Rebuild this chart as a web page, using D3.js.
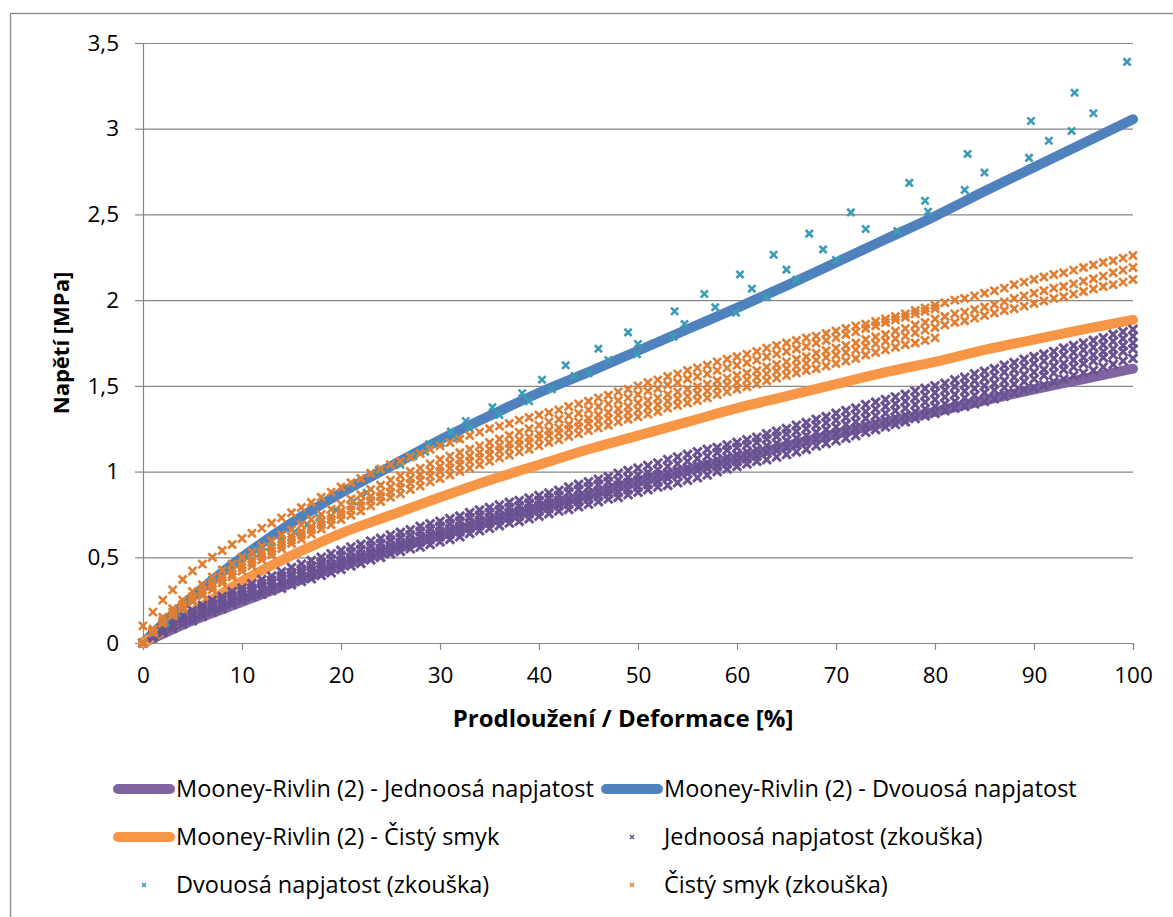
<!DOCTYPE html>
<html><head><meta charset="utf-8">
<script src="https://cdn.jsdelivr.net/npm/d3@7"></script>
<style>
body{margin:0;background:#fff}
svg{display:block}
text{font-family:"Open Sans","Noto Sans",sans-serif;fill:#000}
</style>
</head><body>
<svg id="chart" width="1173" height="917"></svg>
<script>
// ---------- DATA ----------
const strainPct = [0,1,2,3,4,5,6,7,8,9,10,11,12,13,14,15,16,17,18,19,20,21,22,23,24,25,26,27,28,29,30,31,32,33,34,35,36,37,38,39,40,41,42,43,44,45,46,47,48,49,50,51,52,53,54,55,56,57,58,59,60,61,62,63,64,65,66,67,68,69,70,71,72,73,74,75,76,77,78,79,80,81,82,83,84,85,86,87,88,89,90,91,92,93,94,95,96,97,98,99,100];

// Uniaxial tension test specimens (MPa)
const uniTest1 = [0,0.05,0.09,0.125,0.16,0.19,0.22,0.25,0.27,0.30,0.32,0.345,0.37,0.39,0.415,0.44,0.46,0.48,0.50,0.52,0.54,0.56,0.575,0.595,0.61,0.63,0.645,0.66,0.68,0.695,0.71,0.725,0.74,0.76,0.775,0.79,0.805,0.82,0.83,0.845,0.86,0.875,0.89,0.91,0.925,0.94,0.955,0.97,0.99,1.005,1.02,1.035,1.05,1.07,1.085,1.10,1.115,1.13,1.14,1.155,1.17,1.185,1.20,1.22,1.235,1.25,1.27,1.285,1.305,1.32,1.34,1.355,1.37,1.39,1.405,1.42,1.435,1.45,1.47,1.485,1.50,1.515,1.535,1.55,1.57,1.585,1.60,1.62,1.635,1.655,1.67,1.685,1.70,1.72,1.735,1.75,1.765,1.78,1.80,1.815,1.83];
const uniTest2 = [0,0.045,0.08,0.11,0.14,0.17,0.20,0.225,0.25,0.275,0.30,0.32,0.345,0.365,0.39,0.41,0.43,0.45,0.47,0.49,0.51,0.53,0.545,0.565,0.58,0.60,0.615,0.63,0.65,0.665,0.68,0.695,0.71,0.73,0.745,0.76,0.775,0.79,0.80,0.815,0.83,0.845,0.86,0.88,0.895,0.91,0.925,0.94,0.95,0.965,0.98,0.995,1.01,1.03,1.045,1.06,1.075,1.09,1.11,1.125,1.14,1.155,1.17,1.19,1.205,1.22,1.235,1.25,1.27,1.285,1.30,1.315,1.33,1.35,1.365,1.38,1.395,1.41,1.43,1.445,1.46,1.475,1.495,1.51,1.53,1.545,1.56,1.58,1.595,1.615,1.63,1.645,1.66,1.68,1.695,1.71,1.725,1.74,1.76,1.775,1.79];
const uniTest3 = [0,0.04,0.075,0.105,0.135,0.16,0.185,0.21,0.23,0.255,0.28,0.30,0.32,0.345,0.365,0.39,0.41,0.425,0.445,0.46,0.48,0.50,0.515,0.535,0.55,0.57,0.585,0.60,0.62,0.635,0.65,0.665,0.68,0.70,0.715,0.73,0.745,0.76,0.77,0.785,0.80,0.815,0.83,0.84,0.855,0.87,0.885,0.90,0.92,0.935,0.95,0.965,0.98,0.99,1.005,1.02,1.035,1.05,1.07,1.085,1.10,1.115,1.13,1.15,1.165,1.18,1.195,1.21,1.23,1.245,1.26,1.275,1.29,1.31,1.325,1.34,1.355,1.37,1.39,1.405,1.42,1.435,1.45,1.47,1.485,1.50,1.515,1.53,1.55,1.565,1.58,1.595,1.615,1.63,1.65,1.665,1.68,1.70,1.715,1.735,1.75];
const uniTest4 = [0,0.04,0.07,0.10,0.125,0.15,0.175,0.20,0.22,0.245,0.27,0.29,0.31,0.33,0.35,0.37,0.39,0.405,0.425,0.44,0.46,0.48,0.495,0.515,0.53,0.55,0.565,0.58,0.59,0.605,0.62,0.635,0.65,0.67,0.685,0.70,0.715,0.73,0.74,0.755,0.77,0.785,0.80,0.81,0.825,0.84,0.855,0.87,0.88,0.895,0.91,0.925,0.94,0.96,0.975,0.99,1.005,1.02,1.03,1.045,1.06,1.075,1.09,1.11,1.125,1.14,1.155,1.17,1.19,1.205,1.22,1.235,1.25,1.27,1.285,1.30,1.315,1.33,1.35,1.365,1.38,1.395,1.41,1.43,1.445,1.46,1.475,1.49,1.51,1.525,1.54,1.56,1.575,1.595,1.61,1.63,1.645,1.665,1.68,1.70,1.715];
const uniTest5 = [0,0.03,0.06,0.085,0.11,0.13,0.155,0.18,0.20,0.225,0.25,0.27,0.285,0.305,0.32,0.34,0.36,0.375,0.395,0.41,0.43,0.45,0.465,0.485,0.50,0.52,0.535,0.55,0.56,0.575,0.59,0.605,0.62,0.64,0.655,0.67,0.685,0.70,0.71,0.725,0.74,0.755,0.77,0.78,0.795,0.81,0.825,0.84,0.85,0.865,0.88,0.895,0.91,0.92,0.935,0.95,0.965,0.98,1.00,1.015,1.03,1.045,1.06,1.07,1.085,1.10,1.115,1.13,1.15,1.165,1.18,1.195,1.21,1.23,1.245,1.26,1.275,1.29,1.31,1.325,1.34,1.355,1.37,1.38,1.395,1.41,1.425,1.44,1.46,1.475,1.49,1.505,1.525,1.54,1.56,1.575,1.59,1.61,1.625,1.645,1.66];

// Pure shear test specimens (MPa); specimens 2 and 5 stop at 80 %
const shearTest1 = [0.10,0.18,0.25,0.31,0.37,0.42,0.46,0.50,0.54,0.575,0.61,0.64,0.67,0.70,0.73,0.76,0.79,0.82,0.85,0.88,0.91,0.935,0.96,0.99,1.015,1.04,1.06,1.085,1.105,1.13,1.15,1.17,1.19,1.21,1.23,1.25,1.265,1.28,1.30,1.315,1.33,1.345,1.36,1.38,1.395,1.41,1.43,1.445,1.465,1.48,1.50,1.52,1.535,1.555,1.57,1.59,1.605,1.62,1.64,1.655,1.67,1.685,1.70,1.72,1.735,1.75,1.765,1.78,1.79,1.805,1.82,1.835,1.85,1.86,1.875,1.89,1.905,1.92,1.94,1.955,1.97,1.985,2.00,2.01,2.025,2.04,2.055,2.07,2.09,2.105,2.12,2.135,2.15,2.16,2.175,2.19,2.205,2.22,2.23,2.245,2.26];
const shearTest2 = [0,0.08,0.15,0.20,0.25,0.30,0.34,0.385,0.425,0.46,0.50,0.53,0.565,0.595,0.63,0.66,0.69,0.72,0.75,0.78,0.81,0.84,0.865,0.895,0.92,0.95,0.975,1.00,1.02,1.045,1.07,1.09,1.11,1.13,1.15,1.17,1.19,1.21,1.23,1.25,1.27,1.29,1.305,1.325,1.34,1.36,1.38,1.395,1.415,1.43,1.45,1.47,1.485,1.505,1.52,1.54,1.555,1.57,1.59,1.605,1.62,1.635,1.65,1.67,1.685,1.70,1.715,1.73,1.75,1.765,1.78,1.80,1.815,1.835,1.85,1.87,1.885,1.90,1.92,1.935,1.95];
const shearTest3 = [0,0.07,0.13,0.18,0.225,0.27,0.31,0.35,0.385,0.42,0.46,0.49,0.525,0.555,0.59,0.62,0.65,0.68,0.71,0.74,0.77,0.80,0.825,0.855,0.88,0.91,0.935,0.96,0.98,1.005,1.03,1.05,1.07,1.09,1.11,1.13,1.15,1.165,1.185,1.20,1.22,1.24,1.255,1.275,1.29,1.31,1.33,1.345,1.365,1.38,1.40,1.415,1.43,1.45,1.465,1.48,1.495,1.51,1.53,1.545,1.56,1.575,1.59,1.61,1.625,1.64,1.655,1.67,1.69,1.705,1.72,1.735,1.75,1.77,1.785,1.80,1.82,1.835,1.855,1.87,1.89,1.905,1.92,1.93,1.945,1.96,1.975,1.99,2.01,2.025,2.04,2.055,2.07,2.08,2.095,2.11,2.125,2.14,2.16,2.175,2.19];
const shearTest4 = [0,0.065,0.12,0.165,0.21,0.25,0.29,0.33,0.365,0.40,0.44,0.47,0.505,0.535,0.57,0.60,0.63,0.66,0.69,0.72,0.75,0.775,0.80,0.83,0.855,0.88,0.905,0.93,0.95,0.975,1.00,1.02,1.04,1.06,1.08,1.10,1.12,1.135,1.155,1.17,1.19,1.21,1.225,1.245,1.26,1.28,1.295,1.31,1.33,1.345,1.36,1.375,1.39,1.41,1.425,1.44,1.455,1.47,1.49,1.505,1.52,1.535,1.55,1.57,1.585,1.60,1.615,1.63,1.65,1.665,1.68,1.695,1.71,1.73,1.745,1.76,1.775,1.79,1.81,1.825,1.84,1.855,1.87,1.88,1.895,1.91,1.925,1.94,1.95,1.965,1.98,1.995,2.01,2.02,2.035,2.05,2.065,2.08,2.09,2.105,2.12];
const shearTest5 = [0,0.06,0.115,0.16,0.20,0.24,0.275,0.31,0.35,0.385,0.42,0.45,0.485,0.515,0.55,0.58,0.605,0.635,0.665,0.69,0.72,0.745,0.77,0.80,0.825,0.85,0.87,0.895,0.915,0.94,0.96,0.98,1.00,1.02,1.04,1.06,1.08,1.095,1.115,1.13,1.15,1.17,1.185,1.205,1.22,1.24,1.255,1.27,1.29,1.305,1.32,1.335,1.35,1.37,1.385,1.40,1.415,1.43,1.45,1.465,1.48,1.495,1.51,1.53,1.545,1.56,1.575,1.59,1.60,1.615,1.63,1.645,1.66,1.68,1.695,1.71,1.725,1.74,1.75,1.765,1.78];

// Equibiaxial test points
const biaxTestStrain = [0,1.2,2.3,3.4,4.4,5.8,7.0,8.1,9.5,10.5,11.3,11.8,12.8,14.0,15.3,16.6,17.8,19.5,21.2,22.6,23.8,26.0,27.3,28.5,28.9,30.1,31.1,31.7,32.6,33.0,35.3,36.0,38.3,39.0,40.3,41.3,42.7,43.6,45.0,46.0,47.0,49.0,49.9,50.0,53.6,53.7,54.7,56.7,57.8,59.9,60.3,61.5,63.0,63.7,65.0,66.0,67.3,68.7,70.0,71.5,73.0,76.2,77.4,79.0,79.3,83.0,83.3,85.0,89.5,89.7,91.5,93.8,94.1,96.0,99.4];
const biaxTestStress = [0,0.06,0.12,0.175,0.24,0.30,0.37,0.426,0.455,0.50,0.547,0.523,0.562,0.607,0.648,0.692,0.733,0.776,0.824,0.877,1.009,1.04,1.09,1.116,1.159,1.165,1.233,1.194,1.295,1.252,1.375,1.33,1.457,1.41,1.536,1.48,1.62,1.558,1.573,1.717,1.651,1.812,1.684,1.744,1.787,1.935,1.861,2.036,1.958,1.927,2.15,2.067,2.02,2.265,2.178,2.12,2.388,2.296,2.234,2.512,2.415,2.403,2.684,2.58,2.516,2.643,2.853,2.744,2.83,3.045,2.93,2.987,3.21,3.09,3.39];

// Mooney-Rivlin (2) fitted curves
const fitStrain   = [0,5,10,15,20,25,30,35,40,45,50,55,60,65,70,75,80,85,90,95,100];
const fitUniaxial = [0,0.13,0.24,0.35,0.45,0.54,0.63,0.71,0.79,0.865,0.94,1.01,1.08,1.15,1.22,1.285,1.35,1.415,1.48,1.54,1.60];
const fitBiaxial  = [0,0.27,0.50,0.70,0.875,1.03,1.185,1.325,1.46,1.58,1.705,1.83,1.955,2.085,2.22,2.355,2.49,2.635,2.775,2.915,3.055];
const fitShear    = [0,0.18,0.36,0.51,0.64,0.745,0.85,0.95,1.04,1.13,1.21,1.29,1.37,1.44,1.51,1.58,1.64,1.71,1.77,1.83,1.885];

const yTicks = [0,0.5,1,1.5,2,2.5,3,3.5];
const xTicks = [0,10,20,30,40,50,60,70,80,90,100];
const yTitle = "Napětí [MPa]";
const xTitle = "Prodloužení / Deformace [%]";
const legendNames = [
  "Mooney-Rivlin (2) - Jednoosá napjatost",
  "Mooney-Rivlin (2) - Dvouosá napjatost",
  "Mooney-Rivlin (2) - Čistý smyk",
  "Jednoosá napjatost (zkouška)",
  "Dvouosá napjatost (zkouška)",
  "Čistý smyk (zkouška)"
];

// ---------- STYLE ----------
const C = {
  fitUni:"#8064A2", fitBi:"#4F81BD", fitShear:"#F79646",
  uni:"#6A5192", bi:"#3A9CB5", shear:"#E07F33", grid:"#878787"
};
const TICK_FONT = 22.5, LEG_FONT = 23.5;

// ---------- DRAW ----------
const svg = d3.select("#chart");
const P = {l:143, r:1133, t:43, b:643};
const x = d3.scaleLinear().domain([0,100]).range([P.l,P.r]);
const y = d3.scaleLinear().domain([0,3.5]).range([P.b,P.t]);

// outer frame
svg.append("rect").attr("x",10.5).attr("y",13.5).attr("width",1200).attr("height",1000)
  .attr("fill","none").attr("stroke",C.grid).attr("stroke-width",1.3);

// gridlines
svg.append("g").attr("transform",`translate(${P.l},0)`)
  .call(d3.axisLeft(y).tickValues(yTicks.slice(1)).tickSize(-(P.r-P.l)).tickFormat(""))
  .call(g=>g.select(".domain").remove())
  .call(g=>g.selectAll("line").attr("stroke",C.grid).attr("stroke-width",1.2));

// y axis
const fmt = d => String(d).replace(".",",");
svg.append("g").attr("transform",`translate(${P.l},0)`)
  .call(d3.axisLeft(y).tickValues(yTicks).tickSize(8).tickPadding(16).tickFormat(fmt))
  .call(g=>g.select(".domain").attr("stroke",C.grid).attr("stroke-width",1.2))
  .call(g=>g.selectAll("line").attr("stroke",C.grid).attr("stroke-width",1.2))
  .call(g=>g.selectAll("text").attr("font-size",TICK_FONT).attr("font-family","Open Sans"));
// x axis
svg.append("g").attr("transform",`translate(0,${P.b})`)
  .call(d3.axisBottom(x).tickValues(xTicks).tickSize(7).tickPadding(17).tickFormat(fmt))
  .call(g=>g.select(".domain").attr("stroke",C.grid).attr("stroke-width",1.2))
  .call(g=>g.selectAll("line").attr("stroke",C.grid).attr("stroke-width",1.2))
  .call(g=>g.selectAll("text").attr("font-size",TICK_FONT).attr("font-family","Open Sans"));

// titles
svg.append("text").attr("transform",`translate(69,343) rotate(-90)`).attr("text-anchor","middle")
  .attr("font-size",22).attr("font-weight","bold").text(yTitle);
svg.append("text").attr("x",623).attr("y",727).attr("text-anchor","middle")
  .attr("font-size",24).attr("font-weight","bold").text(xTitle);

// fitted lines
const line = d3.line().x(d=>x(d[0])).y(d=>y(d[1])).curve(d3.curveMonotoneX);
const fits = [[fitUniaxial,C.fitUni],[fitBiaxial,C.fitBi],[fitShear,C.fitShear]];
fits.forEach(([vals,col])=>{
  svg.append("path").datum(fitStrain.map((s,i)=>[s,vals[i]]))
    .attr("d",line).attr("fill","none").attr("stroke",col)
    .attr("stroke-width",10).attr("stroke-linecap","round").attr("stroke-linejoin","round");
});

// markers
function xMark(s){return `M${-s},${-s}L${s},${s}M${-s},${s}L${s},${-s}`;}
function drawMarkers(xs, ys, col, s, w){
  svg.append("g").selectAll("path").data(ys.map((v,i)=>[xs[i],v])).join("path")
    .attr("transform",d=>`translate(${x(d[0])},${y(d[1])})`)
    .attr("d",xMark(s)).attr("stroke",col).attr("stroke-width",w).attr("fill","none");
}
[uniTest1,uniTest2,uniTest3,uniTest4,uniTest5].forEach(a=>drawMarkers(strainPct,a,C.uni,4.3,3));
drawMarkers(biaxTestStrain,biaxTestStress,C.bi,3.6,2.6);
[shearTest1,shearTest2,shearTest3,shearTest4,shearTest5].forEach(a=>drawMarkers(strainPct,a,C.shear,4,2.7));

// legend
const rowsY = [789,837,885];
const legendItems = [
  {name:legendNames[0], kind:"line", col:C.fitUni, cx:113, row:0},
  {name:legendNames[1], kind:"line", col:C.fitBi, cx:601, row:0},
  {name:legendNames[2], kind:"line", col:C.fitShear, cx:113, row:1},
  {name:legendNames[3], kind:"mark", col:C.uni, cx:601, row:1},
  {name:legendNames[4], kind:"mark", col:C.bi, cx:113, row:2},
  {name:legendNames[5], kind:"mark", col:C.shear, cx:601, row:2}
];
legendItems.forEach(it=>{
  const yy = rowsY[it.row];
  if(it.kind==="line"){
    svg.append("line").attr("x1",it.cx+5).attr("x2",it.cx+57).attr("y1",yy).attr("y2",yy)
      .attr("stroke",it.col).attr("stroke-width",10).attr("stroke-linecap","round");
  } else {
    svg.append("path").attr("transform",`translate(${it.cx+31},${yy})`).attr("d",xMark(2))
      .attr("stroke",it.col).attr("stroke-width",1.6).attr("fill","none");
  }
  svg.append("text").attr("x",it.cx+63).attr("y",yy).attr("dy","0.35em")
    .attr("font-size",LEG_FONT).text(it.name);
});
</script>
</body></html>
